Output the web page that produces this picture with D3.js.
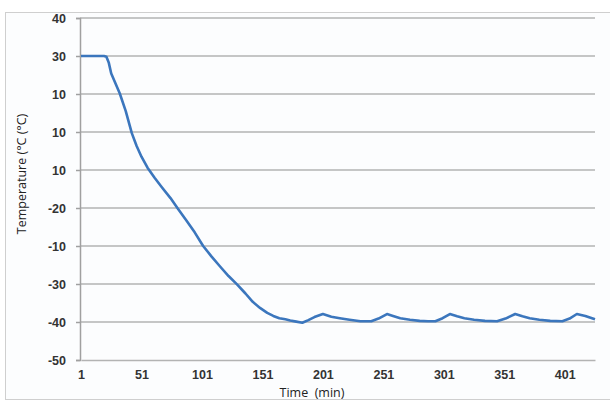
<!DOCTYPE html>
<html><head><meta charset="utf-8">
<script src="https://cdn.jsdelivr.net/npm/d3@7"></script>
<style>
html,body{margin:0;padding:0;background:#fff;}
svg{display:block;font-family:"Open Sans","DejaVu Sans",sans-serif;}
</style></head>
<body>
<svg id="c" width="610" height="401"></svg>
<script>
const times = [1, 10, 20, 22, 24, 26, 33, 38, 43, 47, 51, 56, 62, 68, 75, 81, 88, 95, 102, 109, 116, 123, 130, 137, 143, 149, 155, 160, 165, 170, 174, 179, 184,
  189, 194, 201, 208, 215, 223, 232, 241, 247, 254, 259, 265, 273, 281, 288, 294, 300, 306, 312, 318, 326, 335, 345, 352, 360, 366, 372, 380, 389, 399, 405, 411, 418, 426];
const temps = [30, 30, 30, 29.8, 28.2, 25.4, 20.2, 15.5, 9.7, 6.3, 3.5, 0.6, -2.1, -4.6, -7.4, -10.1, -13.2, -16.4, -20, -22.8, -25.4, -27.9, -30.1, -32.5, -34.7, -36.3, -37.6, -38.4, -39, -39.3, -39.6, -39.9, -40.2,
  -39.5, -38.7, -37.9, -38.6, -39, -39.4, -39.8, -39.8, -39.1, -37.9, -38.4, -39, -39.4, -39.7, -39.8, -39.8, -39.0, -37.9, -38.5, -39, -39.4, -39.7, -39.8, -39.1, -37.9, -38.5, -39, -39.4, -39.7, -39.8, -39.1, -37.9, -38.4, -39.3];
const yTickValues = [40, 30, 20, 10, 0, -10, -20, -30, -40, -50];
const yTickLabels = ["40", "30", "10", "10", "10", "-20", "-10", "-30", "-40", "-50"];
const xTickValues = [1, 51, 101, 151, 201, 251, 301, 351, 401];
const xTitle = "Time  (min)";
const yTitle = "Temperature (°C (°C)";

const svg = d3.select("#c");
// frame
svg.append("rect").attr("x",5.5).attr("y",12.5).attr("width",620).attr("height",387)
  .attr("fill","#fcfdfe").attr("stroke","#cfcfcf").attr("stroke-width",1);

const x = d3.scaleLinear().domain([1, 426]).range([81, 595]);
const y = d3.scaleLinear().domain([-50, 40]).range([360, 18]);

// gridlines
svg.append("g").selectAll("line").data(yTickValues.filter(v=>v>-50)).join("line")
  .attr("x1",80).attr("x2",595).attr("y1",d=>y(d)).attr("y2",d=>y(d))
  .attr("stroke","#b3b3b3").attr("stroke-width",1.6);

// y axis
const yAxis = d3.axisLeft(y).tickValues(yTickValues).tickSize(4).tickPadding(10)
  .tickFormat((d,i)=>yTickLabels[i]);
const gy = svg.append("g").attr("transform","translate(80,0)").call(yAxis);
gy.select(".domain").attr("stroke","#a0a0a0").attr("stroke-width",1.5);
gy.selectAll(".tick line").attr("stroke","#a0a0a0").attr("stroke-width",1.5);
gy.selectAll("text").attr("font-size",12.5).attr("font-weight","bold").attr("fill","#333");

// x axis
const xAxis = d3.axisBottom(x).tickValues(xTickValues).tickSize(0).tickPadding(10)
  .tickFormat(d3.format("d"));
const gx = svg.append("g").attr("transform","translate(0,360)").call(xAxis);
gx.select(".domain").attr("stroke","#b3b3b3").attr("stroke-width",1.6);
gx.selectAll("text").attr("font-size",12.5).attr("font-weight","bold").attr("fill","#333");

// line
const line = d3.line().x((d,i)=>x(times[i])).y(d=>y(d)).curve(d3.curveLinear);
svg.append("path").datum(temps).attr("d",line).attr("fill","none")
  .attr("stroke","#3b76bd").attr("stroke-width",2.6).attr("stroke-linejoin","round");

// titles
svg.append("text").attr("x",312).attr("y",396.5).attr("text-anchor","middle")
  .attr("font-size",12.5).attr("fill","#222").style("white-space","pre").text(xTitle);
svg.append("text").attr("transform","translate(26,174) rotate(-90)").attr("text-anchor","middle")
  .attr("font-size",12.5).attr("fill","#222").text(yTitle);
</script>
</body></html>
